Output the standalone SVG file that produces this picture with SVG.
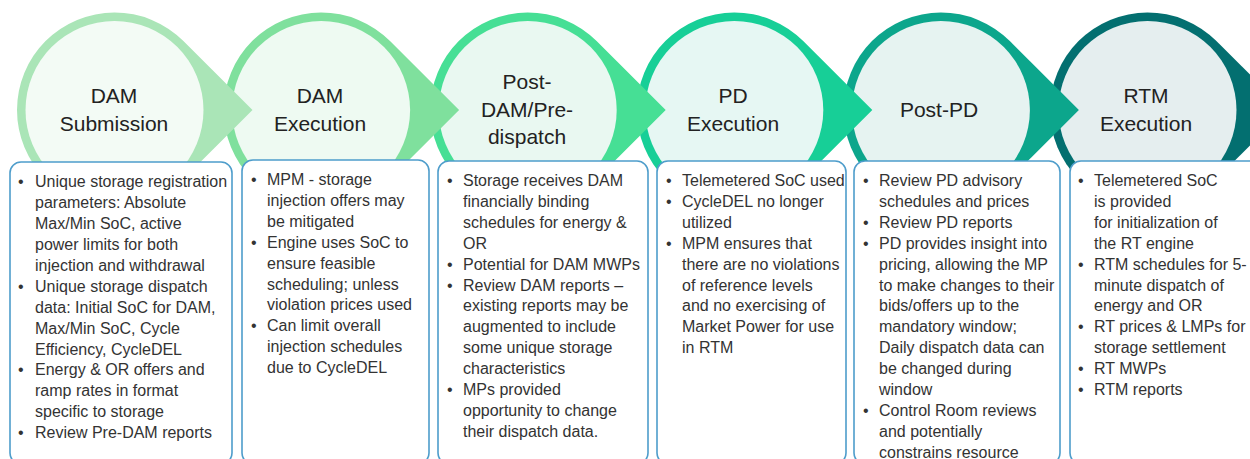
<svg xmlns="http://www.w3.org/2000/svg" width="1250" height="459" viewBox="0 0 1250 459">
<style>
.t{font-family:"Liberation Sans",Arial,sans-serif;font-size:21px;fill:#222;text-anchor:middle}
.b{font-family:"Liberation Sans",Arial,sans-serif;font-size:16px;fill:#333}
.box{fill:#fff;stroke:#4e9dcb;stroke-width:1.6}
</style>
<rect width="1250" height="459" fill="#fff"/>
<g id="circles">
<g id="n6"><path d="M1285.5,110 L1216.4,41 A97.5,97.5 0 1 0 1216.4,179 Z" fill="#036f70"/><circle cx="1147.5" cy="110" r="89" fill="#e5eeef"/>
<text class="t"><tspan x="1146" y="103">RTM</tspan><tspan x="1146" y="131">Execution</tspan></text></g>
<g id="n5"><path d="M1078.9,110 L1009.8,41 A97.5,97.5 0 1 0 1009.8,179 Z" fill="#0ca68c"/><circle cx="940.9" cy="110" r="89" fill="#e6f3f1"/>
<text class="t"><tspan x="939" y="117">Post-PD</tspan></text></g>
<g id="n4"><path d="M872.3,110 L803.2,41 A97.5,97.5 0 1 0 803.2,179 Z" fill="#17cf97"/><circle cx="734.3" cy="110" r="89" fill="#e6f7f3"/>
<text class="t"><tspan x="733" y="103">PD</tspan><tspan x="733" y="131">Execution</tspan></text></g>
<g id="n3"><path d="M665.7,110 L596.6,41 A97.5,97.5 0 1 0 596.6,179 Z" fill="#46df95"/><circle cx="527.7" cy="110" r="89" fill="#e9f8f1"/>
<text class="t"><tspan x="527" y="89">Post-</tspan><tspan x="527" y="117">DAM/Pre-</tspan><tspan x="527" y="144">dispatch</tspan></text></g>
<g id="n2"><path d="M459.1,110 L390,41 A97.5,97.5 0 1 0 390,179 Z" fill="#7fe09d"/><circle cx="321.1" cy="110" r="89" fill="#eefaf2"/>
<text class="t"><tspan x="320" y="103">DAM</tspan><tspan x="320" y="131">Execution</tspan></text></g>
<g id="n1"><path d="M252.5,110 L183.4,41 A97.5,97.5 0 1 0 183.4,179 Z" fill="#aae5b7"/><circle cx="114.5" cy="110" r="89" fill="#f3fbf5"/>
<text class="t"><tspan x="114" y="103">DAM</tspan><tspan x="114" y="131">Submission</tspan></text></g>
</g>
<g id="connectors"></g>
<g id="box1"><rect class="box" x="10" y="162" width="222" height="302" rx="11"/>
<text class="b"><tspan x="18" y="187.3">•</tspan><tspan x="18" y="291.8">•</tspan><tspan x="18" y="375.4">•</tspan><tspan x="18" y="438.1">•</tspan></text>
<text class="b"><tspan x="35" y="187.3">Unique storage registration</tspan><tspan x="35" y="208.2">parameters: Absolute</tspan><tspan x="35" y="229.1">Max/Min SoC, active</tspan><tspan x="35" y="250">power limits for both</tspan><tspan x="35" y="270.9">injection and withdrawal</tspan><tspan x="35" y="291.8">Unique storage dispatch</tspan><tspan x="35" y="312.7">data: Initial SoC for DAM,</tspan><tspan x="35" y="333.6">Max/Min SoC, Cycle</tspan><tspan x="35" y="354.5">Efficiency, CycleDEL</tspan><tspan x="35" y="375.4">Energy &amp; OR offers and</tspan><tspan x="35" y="396.3">ramp rates in format</tspan><tspan x="35" y="417.2">specific to storage</tspan><tspan x="35" y="438.1">Review Pre-DAM reports</tspan></text></g>
<g id="box2"><rect class="box" x="242" y="160" width="187" height="304" rx="11"/>
<text class="b"><tspan x="251" y="185">•</tspan><tspan x="251" y="247.7">•</tspan><tspan x="251" y="331.3">•</tspan></text>
<text class="b"><tspan x="267" y="185">MPM - storage</tspan><tspan x="267" y="205.9">injection offers may</tspan><tspan x="267" y="226.8">be mitigated</tspan><tspan x="267" y="247.7">Engine uses SoC to</tspan><tspan x="267" y="268.6">ensure feasible</tspan><tspan x="267" y="289.5">scheduling; unless</tspan><tspan x="267" y="310.4">violation prices used</tspan><tspan x="267" y="331.3">Can limit overall</tspan><tspan x="267" y="352.2">injection schedules</tspan><tspan x="267" y="373.1">due to CycleDEL</tspan></text></g>
<g id="box3"><rect class="box" x="438" y="161" width="210" height="303" rx="11"/>
<text class="b"><tspan x="447" y="186">•</tspan><tspan x="447" y="269.6">•</tspan><tspan x="447" y="290.5">•</tspan><tspan x="447" y="395">•</tspan></text>
<text class="b"><tspan x="463" y="186">Storage receives DAM</tspan><tspan x="463" y="206.9">financially binding</tspan><tspan x="463" y="227.8">schedules for energy &amp;</tspan><tspan x="463" y="248.7">OR</tspan><tspan x="463" y="269.6">Potential for DAM MWPs</tspan><tspan x="463" y="290.5">Review DAM reports –</tspan><tspan x="463" y="311.4">existing reports may be</tspan><tspan x="463" y="332.3">augmented to include</tspan><tspan x="463" y="353.2">some unique storage</tspan><tspan x="463" y="374.1">characteristics</tspan><tspan x="463" y="395">MPs provided</tspan><tspan x="463" y="415.9">opportunity to change</tspan><tspan x="463" y="436.8">their dispatch data.</tspan></text></g>
<g id="box4"><rect class="box" x="657" y="161" width="189" height="303" rx="11"/>
<text class="b"><tspan x="666" y="186">•</tspan><tspan x="666" y="206.9">•</tspan><tspan x="666" y="248.7">•</tspan></text>
<text class="b"><tspan x="682" y="186">Telemetered SoC used</tspan><tspan x="682" y="206.9">CycleDEL no longer</tspan><tspan x="682" y="227.8">utilized</tspan><tspan x="682" y="248.7">MPM ensures that</tspan><tspan x="682" y="269.6">there are no violations</tspan><tspan x="682" y="290.5">of reference levels</tspan><tspan x="682" y="311.4">and no exercising of</tspan><tspan x="682" y="332.3">Market Power for use</tspan><tspan x="682" y="353.2">in RTM</tspan></text></g>
<g id="box5"><rect class="box" x="854" y="161" width="206" height="303" rx="11"/>
<text class="b"><tspan x="863" y="186">•</tspan><tspan x="863" y="227.8">•</tspan><tspan x="863" y="248.7">•</tspan><tspan x="863" y="415.9">•</tspan></text>
<text class="b"><tspan x="879" y="186">Review PD advisory</tspan><tspan x="879" y="206.9">schedules and prices</tspan><tspan x="879" y="227.8">Review PD reports</tspan><tspan x="879" y="248.7">PD provides insight into</tspan><tspan x="879" y="269.6">pricing, allowing the MP</tspan><tspan x="879" y="290.5">to make changes to their</tspan><tspan x="879" y="311.4">bids/offers up to the</tspan><tspan x="879" y="332.3">mandatory window;</tspan><tspan x="879" y="353.2">Daily dispatch data can</tspan><tspan x="879" y="374.1">be changed during</tspan><tspan x="879" y="395">window</tspan><tspan x="879" y="415.9">Control Room reviews</tspan><tspan x="879" y="436.8">and potentially</tspan><tspan x="879" y="457.7">constrains resource</tspan></text></g>
<g id="box6"><rect class="box" x="1070" y="161" width="200" height="303" rx="11"/>
<text class="b"><tspan x="1078" y="186">•</tspan><tspan x="1078" y="269.6">•</tspan><tspan x="1078" y="332.3">•</tspan><tspan x="1078" y="374.1">•</tspan><tspan x="1078" y="395">•</tspan></text>
<text class="b"><tspan x="1094" y="186">Telemetered SoC</tspan><tspan x="1094" y="206.9">is provided</tspan><tspan x="1094" y="227.8">for initialization of</tspan><tspan x="1094" y="248.7">the RT engine</tspan><tspan x="1094" y="269.6">RTM schedules for 5-</tspan><tspan x="1094" y="290.5">minute dispatch of</tspan><tspan x="1094" y="311.4">energy and OR</tspan><tspan x="1094" y="332.3">RT prices &amp; LMPs for</tspan><tspan x="1094" y="353.2">storage settlement</tspan><tspan x="1094" y="374.1">RT MWPs</tspan><tspan x="1094" y="395">RTM reports</tspan></text></g>
</svg>
